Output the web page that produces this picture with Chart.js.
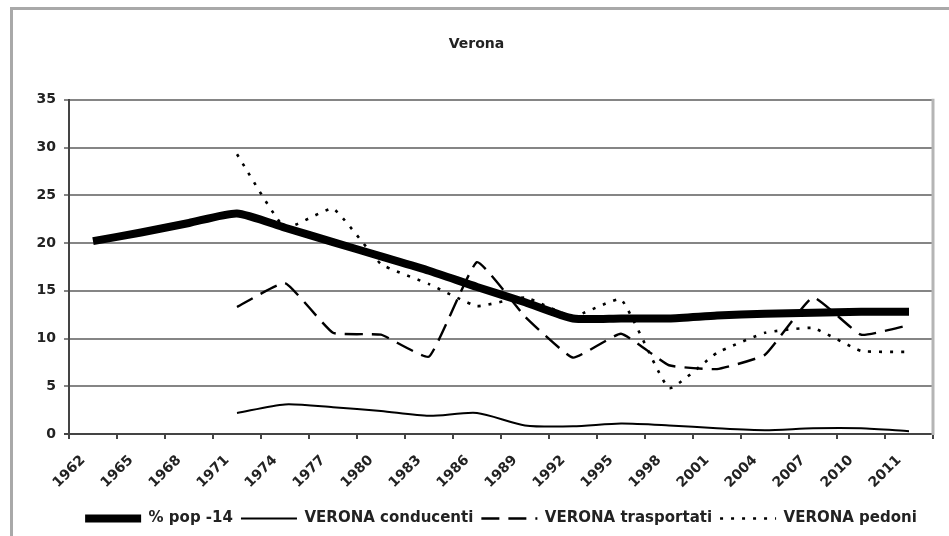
<!DOCTYPE html>
<html>
<head>
<meta charset="utf-8">
<script src="https://cdn.jsdelivr.net/npm/chart.js@4.4.1/dist/chart.umd.min.js"></script>
<style>
  html, body { margin: 0; padding: 0; background: #fff; }
  #frame {
    position: absolute; left: 10px; top: 7px; width: 960px; height: 560px;
    border-left: 3px solid #a9a9a9; border-top: 3px solid #a9a9a9;
  }
  #wrap { position: absolute; left: 0; top: 0; width: 949px; height: 536px; }
</style>
</head>
<body>
<div id="frame"></div>
<div id="wrap"><canvas id="chart" width="949" height="536"></canvas></div>
<script>
/* Data */
const years = ['1962', '1965', '1968', '1971', '1974', '1977', '1980', '1983', '1986',
  '1989', '1992', '1995', '1998', '2001', '2004', '2007', '2010', '2011'];
const popUnder14 = [20.2, 21.1, 22.1, 23.1, 21.6, 20.1, 18.6, 17.1, 15.4,
  13.8, 12.1, 12.1, 12.1, 12.4, 12.6, 12.7, 12.8, 12.8];
const conducenti = [null, null, null, 2.2, 3.1, 2.8, 2.4, 1.9, 2.2,
  0.9, 0.8, 1.1, 0.9, 0.6, 0.4, 0.6, 0.6, 0.3];
const trasportati = [null, null, null, 13.3, 15.8, 10.6, 10.4, 8.1, 18.0,
  12.3, 8.0, 10.5, 7.2, 6.8, 8.3, 14.3, 10.4, 11.4];
const pedoni = [null, null, null, 29.3, 21.6, 23.6, 17.8, 15.7, 13.4,
  14.3, 12.3, 14.1, 4.8, 8.5, 10.6, 11.1, 8.7, 8.6];
const yTicks = [0, 5, 10, 15, 20, 25, 30, 35];

const FONT = 'DejaVu Sans';
const INK = '#222';

// light grey right edge of the plot area
const plotEdge = {
  id: 'plotEdge',
  beforeDatasetsDraw(chart) {
    const a = chart.chartArea;
    const ctx = chart.ctx;
    ctx.save();
    ctx.strokeStyle = '#b5b5b5';
    ctx.lineWidth = 3;
    ctx.beginPath();
    ctx.moveTo(a.right, a.top - 1);
    ctx.lineTo(a.right, a.bottom + 1);
    ctx.stroke();
    ctx.restore();
  }
};

function lineSet(label, data, width, dash, tension, order) {
  return {
    label: label,
    data: data,
    borderColor: '#000',
    backgroundColor: '#000',
    borderWidth: width,
    borderDash: dash,
    borderCapStyle: 'butt',
    pointRadius: 0,
    pointHoverRadius: 0,
    tension: tension,
    spanGaps: false,
    fill: false,
    order: order
  };
}

new Chart(document.getElementById('chart'), {
  type: 'line',
  data: {
    labels: years,
    datasets: [
      lineSet('% pop -14', popUnder14, 8, [], 0.2, 4),
      lineSet('VERONA conducenti', conducenti, 2, [], 0.25, 3),
      lineSet('VERONA trasportati', trasportati, 2.4, [18, 9], 0.12, 2),
      lineSet('VERONA pedoni', pedoni, 2.6, [3, 8], 0.12, 1)
    ]
  },
  options: {
    responsive: false,
    animation: false,
    layout: { padding: { left: 20, right: 16, top: 0, bottom: 0 } },
    plugins: {
      title: {
        display: true,
        text: 'Verona',
        color: INK,
        font: { family: FONT, size: 14, weight: 'bold' },
        padding: { top: 36, bottom: 47 }
      },
      legend: {
        display: true,
        position: 'bottom',
        fullSize: false,
        labels: {
          color: INK,
          font: { family: FONT, size: 15, weight: 'bold' },
          usePointStyle: true,
          pointStyleWidth: 56,
          boxHeight: 10,
          padding: 8,
          generateLabels(chart) {
            return chart.data.datasets.map((ds, i) => ({
              text: ds.label,
              datasetIndex: i,
              fillStyle: '#000',
              strokeStyle: '#000',
              fontColor: INK,
              lineWidth: ds.borderWidth,
              lineDash: ds.borderDash,
              lineCap: 'butt',
              pointStyle: 'line',
              hidden: false
            }));
          }
        }
      },
      tooltip: { enabled: false }
    },
    scales: {
      x: {
        offset: true,
        grid: { display: true, drawOnChartArea: false, drawTicks: true, tickLength: 5, offset: true, color: '#444', lineWidth: 2 },
        border: { display: true, color: '#444', width: 2 },
        ticks: {
          color: INK,
          font: { family: FONT, size: 14, weight: 'bold' },
          minRotation: 45,
          maxRotation: 45,
          autoSkip: false,
          labelOffset: -10,
          padding: 13
        },
        afterFit(scale) { scale.height = 69; }
      },
      y: {
        min: 0,
        max: 35,
        afterBuildTicks(scale) { scale.ticks = yTicks.map(v => ({ value: v })); },
        grid: {
          color: (c) => c.tick && c.tick.value === 0 ? '#444' : '#858585',
          lineWidth: 2,
          tickLength: 5
        },
        border: { display: true, color: '#444', width: 2 },
        ticks: {
          color: INK,
          font: { family: FONT, size: 14, weight: 'bold' },
          padding: 8
        },
        afterFit(scale) { scale.width = 49; }
      }
    }
  },
  plugins: [plotEdge]
});
</script>
</body>
</html>
